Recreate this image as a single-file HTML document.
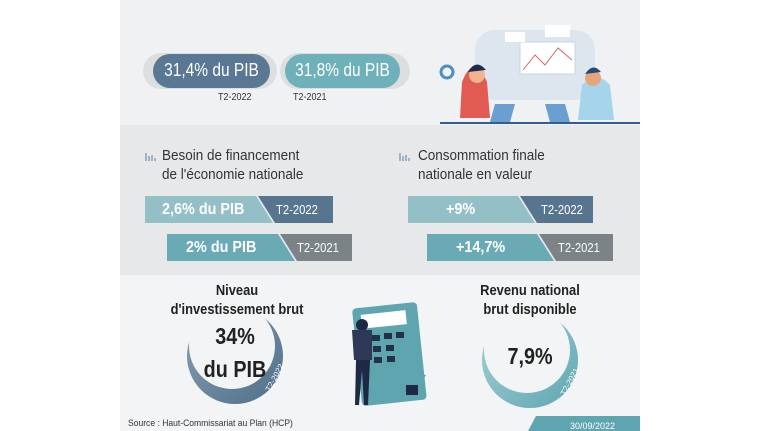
<!DOCTYPE html>
<html><head><meta charset="utf-8"><style>
body{margin:0;width:760px;height:431px;background:#fff;overflow:hidden;font-family:"Liberation Sans",sans-serif}
.c{position:absolute;left:0;top:0;width:760px;height:431px}
.t{position:absolute;white-space:nowrap}
.n{transform:scaleX(0.86);transform-origin:center top}
.l{transform:scaleX(0.9);transform-origin:left top}
</style></head><body><div class="c">
<svg width="760" height="431" style="position:absolute;left:0;top:0">
<defs>
<linearGradient id="g1" x1="0" y1="0" x2="1" y2="1"><stop offset="0" stop-color="#8aa0b3"/><stop offset="1" stop-color="#4f6f8a"/></linearGradient>
<linearGradient id="g2" x1="0" y1="0" x2="1" y2="1"><stop offset="0" stop-color="#a9d0d6"/><stop offset="1" stop-color="#5ea7b2"/></linearGradient>
</defs>
<rect x="120" y="0" width="520" height="125" fill="#eff1f3"/>
<rect x="120" y="125" width="520" height="150" fill="#e6e8ea"/>
<rect x="120" y="275" width="520" height="156" fill="#f3f4f5"/>
<rect x="143" y="53" width="134" height="36" rx="18" fill="#dcdee0"/>
<rect x="153" y="54" width="117" height="34" rx="17" fill="#5a7893"/>
<rect x="280" y="53" width="130" height="36" rx="18" fill="#dcdee0"/>
<rect x="285" y="54" width="115" height="34" rx="17" fill="#6fb1bb"/>
<rect x="475" y="30" width="120" height="70" rx="20" fill="#dde6ee"/>
<rect x="520" y="42" width="55" height="32" fill="#fff" stroke="#c8d6e2"/>
<polyline points="523,70 535,55 545,65 558,48 572,60" fill="none" stroke="#d06a6a"/>
<rect x="505" y="32" width="20" height="10" fill="#fff"/>
<rect x="545" y="25" width="25" height="12" fill="#fff"/>
<circle cx="447" cy="72" r="6" fill="none" stroke="#4f8fc0" stroke-width="3"/>
<path d="M462 82 q12 -30 25 0 l3 36 h-30z" fill="#e25b52"/>
<circle cx="477" cy="75" r="8" fill="#f2b48e"/><path d="M468 72 q8 -14 18 -2z" fill="#1e2d4f"/>
<path d="M582 85 q15 -15 28 0 l4 35 h-36z" fill="#a6d4ea"/>
<circle cx="593" cy="78" r="8" fill="#e7a57c"/><path d="M585 74 q8 -12 16 -2z" fill="#234a7a"/>
<path d="M495 104 l20 0 l-5 18 h-20z" fill="#6b9fd0"/>
<path d="M545 104 l20 0 l5 18 h-20z" fill="#6b9fd0"/>
<line x1="440" y1="123" x2="640" y2="123" stroke="#2f5d94" stroke-width="2"/>
<g fill="#9fb3c6"><rect x="145" y="153" width="2" height="8"/><rect x="148" y="156" width="2" height="5"/><rect x="151" y="155" width="2" height="6"/><rect x="154" y="158" width="2" height="3"/>
<rect x="399" y="153" width="2" height="8"/><rect x="402" y="156" width="2" height="5"/><rect x="405" y="155" width="2" height="6"/><rect x="408" y="158" width="2" height="3"/></g>
<polygon points="258,196 333,196 333,223 275,223" fill="#57758f"/>
<polygon points="145,196 256,196 273,223 145,223" fill="#93bfc7"/>
<polygon points="280,234 352,234 352,261 297,261" fill="#7b8386"/>
<polygon points="167,234 278,234 295,261 167,261" fill="#69aab5"/>
<polygon points="520,196 593,196 593,223 537,223" fill="#57758f"/>
<polygon points="408,196 518,196 535,223 408,223" fill="#93bfc7"/>
<polygon points="539,234 613,234 613,261 556,261" fill="#7b8386"/>
<polygon points="427,234 537,234 554,261 427,261" fill="#69aab5"/>
<circle cx="235" cy="356" r="48" fill="url(#g1)"/>
<circle cx="232" cy="346" r="43" fill="#f3f4f5"/>
<text x="0" y="0" transform="translate(270,392) rotate(-62)" font-size="8" fill="#fff" font-family="Liberation Sans">T2-2022</text>
<circle cx="530" cy="360" r="48" fill="url(#g2)"/>
<circle cx="527" cy="350" r="43" fill="#f3f4f5"/>
<text x="0" y="0" transform="translate(565,396) rotate(-62)" font-size="8" fill="#fff" font-family="Liberation Sans">T2-2021</text>
<rect x="357" y="305" width="65" height="98" rx="4" fill="#5ea5b0" transform="rotate(-6 390 355)"/>
<rect x="365" y="312" width="45" height="14" fill="#fff" transform="rotate(-6 390 355)"/>
<g fill="#233048"><rect x="372" y="335" width="8" height="6"/><rect x="384" y="333" width="8" height="6"/><rect x="396" y="332" width="8" height="6"/><rect x="373" y="346" width="8" height="6"/><rect x="386" y="345" width="8" height="6"/><rect x="374" y="357" width="8" height="6"/><rect x="387" y="356" width="8" height="6"/></g>
<circle cx="362" cy="325" r="6" fill="#1e2a44"/>
<path d="M352 330 h20 v30 h-18z" fill="#2e3857"/>
<path d="M356 360 h14 l-2 45 h-4 l-2 -35 l-3 35 h-4z" fill="#1e2a44"/>
<rect x="406" y="385" width="12" height="10" fill="#1e2a44"/>
<path d="M412 385 q-10 -15 -4 -22 q6 8 4 22 q8 -12 14 -10 q-4 8 -14 10" fill="#5ea5b0"/>
<polygon points="536,416 640,416 640,431 528,431" fill="#5ea5b0"/>
</svg>
<div class="t n" style="left:153px;top:60px;width:117px;text-align:center;font-size:18px;color:#fff">31,4% du PIB</div>
<div class="t n" style="left:285px;top:60px;width:115px;text-align:center;font-size:18px;color:#fff">31,8% du PIB</div>
<div class="t l" style="left:218px;top:92px;font-size:10px;color:#333">T2-2022</div>
<div class="t l" style="left:293px;top:92px;font-size:10px;color:#333">T2-2021</div>
<div class="t l" style="left:162px;top:146px;font-size:15px;line-height:19px;color:#333">Besoin de financement<br>de l'économie nationale</div>
<div class="t l" style="left:418px;top:146px;font-size:15px;line-height:19px;color:#333">Consommation finale<br>nationale en valeur</div>
<div class="t l" style="left:162px;top:201px;font-size:16px;color:#fff;font-weight:bold">2,6% du PIB</div>
<div class="t l" style="left:276px;top:203px;font-size:12.5px;color:#fff">T2-2022</div>
<div class="t l" style="left:186px;top:239px;font-size:16px;color:#fff;font-weight:bold">2% du PIB</div>
<div class="t l" style="left:297px;top:241px;font-size:12.5px;color:#fff">T2-2021</div>
<div class="t l" style="left:446px;top:201px;font-size:16px;color:#fff;font-weight:bold">+9%</div>
<div class="t l" style="left:541px;top:203px;font-size:12.5px;color:#fff">T2-2022</div>
<div class="t l" style="left:456px;top:239px;font-size:16px;color:#fff;font-weight:bold">+14,7%</div>
<div class="t l" style="left:558px;top:241px;font-size:12.5px;color:#fff">T2-2021</div>
<div class="t n" style="left:150px;top:281px;width:174px;text-align:center;font-size:15px;line-height:19px;color:#222;font-weight:bold">Niveau<br>d'investissement brut</div>
<div class="t n" style="left:445px;top:281px;width:170px;text-align:center;font-size:15px;line-height:19px;color:#222;font-weight:bold">Revenu national<br>brut disponible</div>
<div class="t n" style="left:185px;top:320px;width:100px;text-align:center;font-size:23px;line-height:33px;color:#222;font-weight:bold">34%<br>du PIB</div>
<div class="t n" style="left:478px;top:343px;width:104px;text-align:center;font-size:23px;color:#222;font-weight:bold">7,9%</div>
<div class="t l" style="left:128px;top:418px;font-size:9.5px;color:#333">Source : Haut-Commissariat au Plan (HCP)</div>
<div class="t" style="left:570px;top:421px;font-size:9px;color:#fff">30/09/2022</div>
</div></body></html>
